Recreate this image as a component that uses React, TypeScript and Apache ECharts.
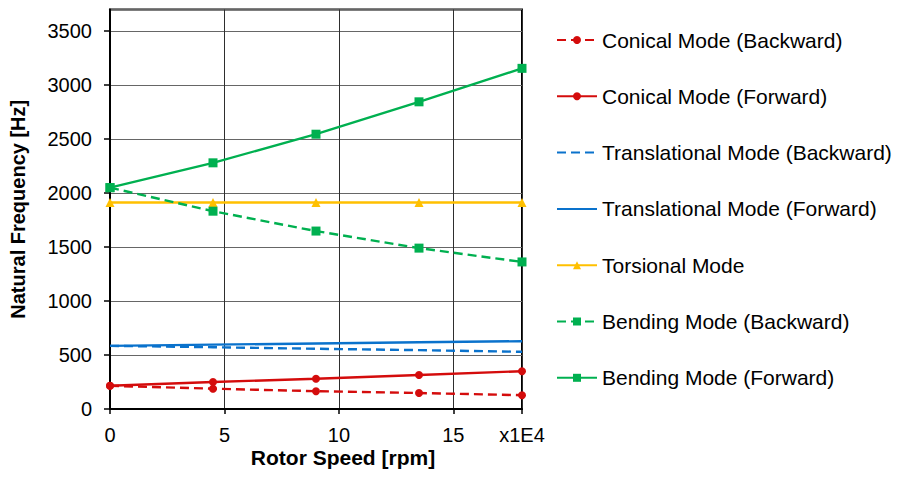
import React, { useEffect, useRef } from "react";
import * as echarts from "echarts";

// Rotor speed samples (x1E4 rpm)
const speeds = [0, 4.5, 9, 13.5, 18];

// Natural frequencies [Hz] for each mode
const conicalBackward = [215, 188, 165, 148, 128];
const conicalForward = [215, 250, 280, 315, 350];
const translationalBackward = [585, 572, 558, 545, 530];
const translationalForward = [585, 596, 607, 618, 628];
const torsional = [1912, 1912, 1912, 1912, 1912];
const bendingBackward = [2050, 1832, 1648, 1490, 1362];
const bendingForward = [2050, 2280, 2545, 2845, 3155];

const xTickLabels = [0, 5, 10, 15, 18];

const RED = "#d40c0c";
const BLUE = "#0a72cc";
const YELLOW = "#ffc000";
const GREEN = "#00b050";
const FONT = "Liberation Sans, Arial, sans-serif";

const pts = (ys: number[]) => speeds.map((x, i) => [x, ys[i]]);

export default function App() {
  const ref = useRef<HTMLDivElement>(null);

  useEffect(() => {
    if (!ref.current) return;
    const chart = echarts.init(ref.current, undefined, { renderer: "svg" });

    const line = (
      name: string,
      ys: number[],
      color: string,
      dashed: boolean,
      symbol: string,
      size: number
    ) => ({
      name,
      type: "line",
      data: pts(ys),
      color,
      symbol,
      symbolSize: size,
      showSymbol: symbol !== "none",
      lineStyle: {
        color,
        width: 2.4,
        type: dashed ? [9, 5] : "solid",
      },
      itemStyle: { color },
      z: 3,
    });

    const plain = (name: string) => ({ name, itemStyle: { opacity: 0 } });

    chart.setOption({
      animation: false,
      backgroundColor: "#fff",
      textStyle: { fontFamily: FONT },
      grid: {
        left: 110,
        right: 375,
        top: 9.5,
        bottom: 68,
        show: true,
        borderColor: "#000",
        borderWidth: 2,
        containLabel: false,
      },
      xAxis: {
        type: "value",
        min: 0,
        max: 18,
        interval: 5,
        axisLine: { show: true, lineStyle: { color: "#000", width: 2 } },
        axisTick: {
          show: true,
          inside: false,
          length: 5,
          lineStyle: { color: "#000", width: 1.5 },
        },
        splitLine: { show: true, lineStyle: { color: "#2e2e2e", width: 1 } },
        axisLabel: {
          customValues: xTickLabels,
          formatter: (v: number) => (v === 18 ? "x1E4" : String(v)),
          color: "#000",
          fontSize: 20,
          fontFamily: FONT,
          margin: 16,
          showMaxLabel: true,
        },
      },
      yAxis: {
        type: "value",
        min: 0,
        max: 3700,
        interval: 500,
        name: "Natural Frequency [Hz]",
        nameLocation: "middle",
        nameGap: 82,
        nameRotate: 90,
        nameTextStyle: {
          color: "#000",
          fontSize: 20,
          fontWeight: "bold",
          fontFamily: FONT,
        },
        axisLine: { show: true, lineStyle: { color: "#000", width: 2 } },
        axisTick: {
          show: true,
          inside: false,
          length: 6,
          lineStyle: { color: "#000", width: 1.5 },
        },
        splitLine: { show: true, lineStyle: { color: "#666", width: 1 } },
        axisLabel: {
          formatter: (v: number) => String(v),
          color: "#000",
          fontSize: 20,
          fontFamily: FONT,
          margin: 18,
          showMaxLabel: false,
        },
      },
      legend: {
        orient: "vertical",
        left: 556,
        top: 28,
        padding: 0,
        itemWidth: 40,
        itemHeight: 10,
        itemGap: 32.3,
        textStyle: {
          color: "#000",
          fontSize: 21,
          fontFamily: FONT,
          lineHeight: 24,
        },
        data: [
          "Conical Mode (Backward)",
          "Conical Mode (Forward)",
          plain("Translational Mode (Backward)"),
          plain("Translational Mode (Forward)"),
          "Torsional Mode",
          "Bending Mode (Backward)",
          "Bending Mode (Forward)",
        ],
      },
      graphic: [
        {
          type: "text",
          x: 343,
          y: 457,
          style: {
            text: "Rotor Speed [rpm]",
            fill: "#000",
            font: `bold 21px ${FONT}`,
            align: "center",
            verticalAlign: "middle",
          },
        },
      ],
      series: [
        line("Conical Mode (Backward)", conicalBackward, RED, true, "circle", 8),
        line("Conical Mode (Forward)", conicalForward, RED, false, "circle", 8),
        line("Translational Mode (Backward)", translationalBackward, BLUE, true, "none", 0),
        line("Translational Mode (Forward)", translationalForward, BLUE, false, "none", 0),
        line("Torsional Mode", torsional, YELLOW, false, "triangle", 9),
        line("Bending Mode (Backward)", bendingBackward, GREEN, true, "rect", 9),
        line("Bending Mode (Forward)", bendingForward, GREEN, false, "rect", 9),
      ],
    });

    return () => chart.dispose();
  }, []);

  return (
    <div
      ref={ref}
      style={{ position: "fixed", left: 0, top: 0, width: 897, height: 477 }}
    />
  );
}
